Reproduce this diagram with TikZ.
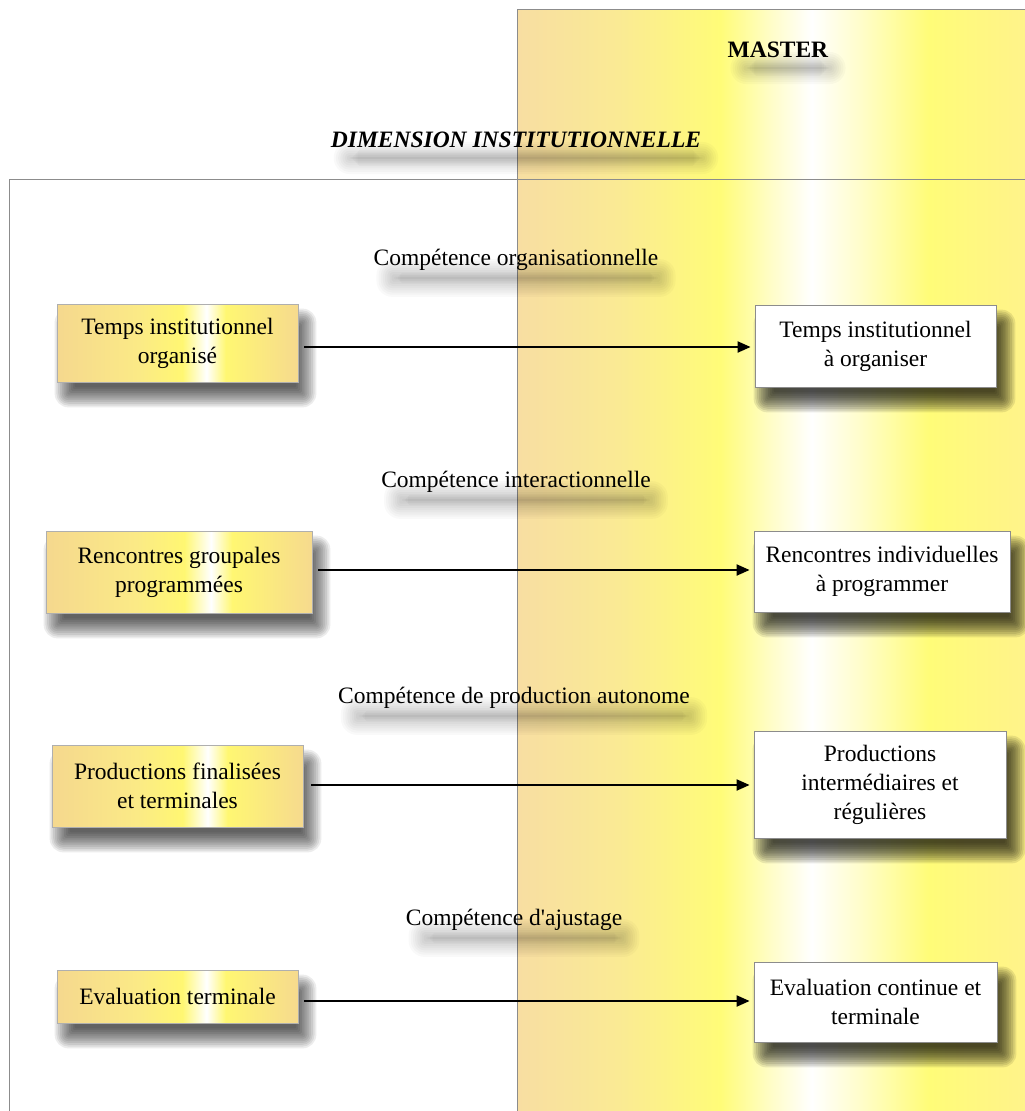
\documentclass[tikz,border=0pt]{standalone}
\usepackage{fontspec}
\setmainfont{Liberation Serif}
\usetikzlibrary{arrows.meta}
\definecolor{pA}{HTML}{F8DEA2}
\definecolor{pB}{HTML}{FAEA94}
\definecolor{pY}{HTML}{FFFC78}
\definecolor{pC}{HTML}{FFFDC8}
\definecolor{pD}{HTML}{FFF38A}
\definecolor{bA}{HTML}{F5D88E}
\definecolor{bB}{HTML}{FBEA86}
\definecolor{bY}{HTML}{FFF772}
\definecolor{bD}{HTML}{F6DA8E}
\definecolor{frame}{HTML}{8C8C8C}
\pgfdeclarehorizontalshading{panelshade}{100bp}{color(0bp)=(pA); color(25bp)=(pA); color(35bp)=(pB); color(45bp)=(pY); color(50bp)=(pC); color(54bp)=(white); color(59bp)=(pC); color(65.5bp)=(pY); color(75bp)=(pD); color(100bp)=(pD)}
\pgfdeclarehorizontalshading{boxshade}{100bp}{color(0bp)=(bA); color(25bp)=(bA); color(42bp)=(bB); color(51bp)=(bY); color(56bp)=(white); color(60bp)=(bY); color(75bp)=(bD); color(100bp)=(bD)}
\pgfdeclarelayer{bg}
\pgfdeclarelayer{shd}
\pgfsetlayers{bg,shd,main}
% soft shadow: node, dx, dy (canvas pt), radius, alpha per layer, inset x, inset y
\newcommand{\softshadow}[7]{%
  \foreach \i in {0,...,11}{%
    \pgfmathsetmacro{\dd}{#4-2*#4*\i/11}%
    \pgfmathsetmacro{\rr}{max(1.5,\dd+4)}%
    \pgfmathsetmacro{\xa}{#2-\dd+#6}%
    \pgfmathsetmacro{\xb}{#2+\dd-#6}%
    \pgfmathsetmacro{\ya}{#3-\dd+#7}%
    \pgfmathsetmacro{\yb}{#3+\dd-#7}%
    \fill[black, opacity=#5, rounded corners=\rr pt]
      ([xshift=\xa pt, yshift=\ya pt]#1.south west) rectangle
      ([xshift=\xb pt, yshift=\yb pt]#1.north east);
  }}
\begin{document}
\begin{tikzpicture}[x=1pt,y=-1pt,
  every node/.style={font=\fontsize{23.5}{29}\selectfont, align=center},
  lbl/.style={inner xsep=3pt, inner ysep=0pt},
  lbox/.style={draw=frame!70, line width=0.8pt, shading=boxshade, inner sep=2pt},
  rbox/.style={draw=frame, line width=0.8pt, fill=white, inner sep=2pt},
  arr/.style={line width=2pt, -{Triangle[length=13pt,width=11pt]}},
  panelline/.style={draw=frame, line width=1pt}]
\useasboundingbox (0,0) rectangle (1025,1111);
\begin{pgfonlayer}{bg}
\fill[white] (0,0) rectangle (1025,1111);
% yellow panel
\shade[shading=panelshade] (517,9) rectangle (1025,1111);
\draw[panelline] (517,1111) -- (517,9) -- (1025,9);
% left frame
\draw[panelline] (9,1111) -- (9,179) -- (1025,179);
\end{pgfonlayer}
% titles
\node[lbl] (master) at (778,50) {\textbf{MASTER}};
\node[lbl] (dim) at (516,140) {\textbf{\textit{DIMENSION INSTITUTIONNELLE}}};
\node[lbl] (c1) at (516,260) {Compétence organisationnelle};
\node[lbl] (c2) at (516,482) {Compétence interactionnelle};
\node[lbl] (c3) at (514,698) {Compétence de production autonome};
\node[lbl] (c4) at (514,920) {Compétence d\textquotesingle ajustage};
% boxes
\node[lbox, minimum width=241pt, minimum height=78pt] (L1) at (177.5,343) {Temps institutionnel\\organisé};
\node[rbox, minimum width=241pt, minimum height=82pt] (R1) at (875.5,346) {Temps institutionnel\\à organiser};
\node[lbox, minimum width=266pt, minimum height=82pt] (L2) at (179,572) {Rencontres groupales\\programmées};
\node[rbox, minimum width=256pt, minimum height=81pt] (R2) at (882,571.5) {Rencontres individuelles\\à programmer};
\node[lbox, minimum width=251pt, minimum height=82pt] (L3) at (177.5,786) {Productions finalisées\\et terminales};
\node[rbox, minimum width=252pt, minimum height=107pt] (R3) at (880,784.5) {Productions\\intermédiaires et\\régulières};
\node[lbox, minimum width=241pt, minimum height=53pt] (L4) at (177.5,996.5) {Evaluation terminale};
\node[rbox, minimum width=243pt, minimum height=80pt] (R4) at (875.5,1002) {Evaluation continue et\\terminale};
% shadows
\begin{pgfonlayer}{shd}
\foreach \n in {L1,L2,L3,L4}{\softshadow{\n}{8}{-15}{10}{0.075}{0}{0}}
\foreach \n in {R1,R2,R3,R4}{\softshadow{\n}{9}{-15}{10}{0.095}{0}{0}}
\foreach \n in {master,dim,c1,c2,c3,c4}{\softshadow{\n}{10}{-18}{12}{0.022}{8}{4}}
\end{pgfonlayer}
% arrows
\draw[arr, shorten <=6pt, shorten >=4pt] ([yshift=-4pt]L1.east) -- ([yshift=-4pt]L1.east -| R1.west);
\draw[arr, shorten <=6pt, shorten >=4pt] ([yshift=2pt]L2.east) -- ([yshift=2pt]L2.east -| R2.west);
\draw[arr, shorten <=8pt, shorten >=4pt] ([yshift=1pt]L3.east) -- ([yshift=1pt]L3.east -| R3.west);
\draw[arr, shorten <=6pt, shorten >=4pt] ([yshift=-4.5pt]L4.east) -- ([yshift=-4.5pt]L4.east -| R4.west);
\end{tikzpicture}
\end{document}
